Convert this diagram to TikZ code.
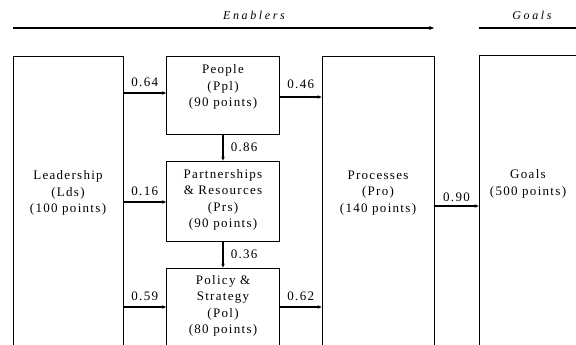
\documentclass[tikz,border=0pt]{standalone}
\usepackage{fontspec}
\setmainfont{Liberation Serif}[LetterSpace=10]
\usetikzlibrary{arrows.meta,calc}
\begin{document}
\begin{tikzpicture}[x=1pt,y=-1pt,
  box/.style={draw,line width=0.8pt,inner sep=0pt},
  txt/.style={align=center,inner sep=0pt,font=\fontsize{13}{16.5}\selectfont},
  conn/.style={line width=1.5pt,-{Stealth[length=4pt,width=3.5pt]}},
  lbl/.style={inner sep=0pt,font=\fontsize{13}{16}\selectfont},
  head/.style={inner sep=0pt,font=\fontsize{12}{14}\selectfont\itshape\addfontfeature{LetterSpace=22}}]
\useasboundingbox (0,0) rectangle (576,345);
% boxes
\node[box,minimum width=110pt,minimum height=344pt] (lds) at (68,228) {};
\node[box,minimum width=113pt,minimum height=78pt] (ppl) at (223,95) {};
\node[box,minimum width=113pt,minimum height=80pt] (prs) at (223,201) {};
\node[box,minimum width=113pt,minimum height=132pt] (pol) at (223,334) {};
\node[box,minimum width=112pt,minimum height=344pt] (pro) at (378,228) {};
\node[box,minimum width=161pt,minimum height=345pt] (gls) at (559.5,227.5) {};
% texts
\node[txt] (ldst) at (68,193) {Leadership\\(Lds)\\(100 points)};
\node[txt] (pplt) at (223,87) {People\\(Ppl)\\(90 points)};
\node[txt] (prst) at (223,200) {Partnerships\\\&~Resources\\(Prs)\\(90 points)};
\node[txt] (polt) at (223,306) {Policy \&\\Strategy\\(Pol)\\(80 points)};
\node[txt] (prot) at (378,193) {Processes\\(Pro)\\(140 points)};
\node[txt] (glst) at (528,184) {Goals\\(500 points)};
% header
\coordinate (e0) at (13,28);
\coordinate (e1) at (434,28);
\coordinate (g0) at (479,28);
\coordinate (g1) at (580,28);
\draw[line width=1.8pt,-{Stealth[length=5pt,width=4pt]}] (e0) -- (e1);
\draw[line width=1.2pt] (g0) -- (g1);
\node[head] (enab) at (254,15) {Enablers};
\node[head] (goalh) at (532,15) {Goals};
% connectors
\coordinate (y1) at (0,93);
\coordinate (y2) at (0,97);
\coordinate (y3) at (0,202);
\coordinate (y4) at (0,307);
\coordinate (y5) at (0,206);
\draw[conn] (lds.east |- y1) -- node[lbl,above=6pt] (l64) {0.64} (ppl.west |- y1);
\draw[conn] (lds.east |- y3) -- node[lbl,above=6pt] (l16) {0.16} (prs.west |- y3);
\draw[conn] (lds.east |- y4) -- node[lbl,above=6pt] (l59) {0.59} (pol.west |- y4);
\draw[conn] (ppl.east |- y2) -- node[lbl,above=8pt] (l46) {0.46} (pro.west |- y2);
\draw[conn] (pol.east |- y4) -- node[lbl,above=6pt] (l62) {0.62} (pro.west |- y4);
\draw[conn] (pro.east |- y5) -- node[lbl,above=4pt] (l90) {0.90} (gls.west |- y5);
\draw[conn] (ppl.south) -- node[lbl,right=7pt] (l86) {0.86} (prs.north);
\draw[conn] (prs.south) -- node[lbl,right=7pt] (l36) {0.36} (pol.north);
\end{tikzpicture}
\end{document}
